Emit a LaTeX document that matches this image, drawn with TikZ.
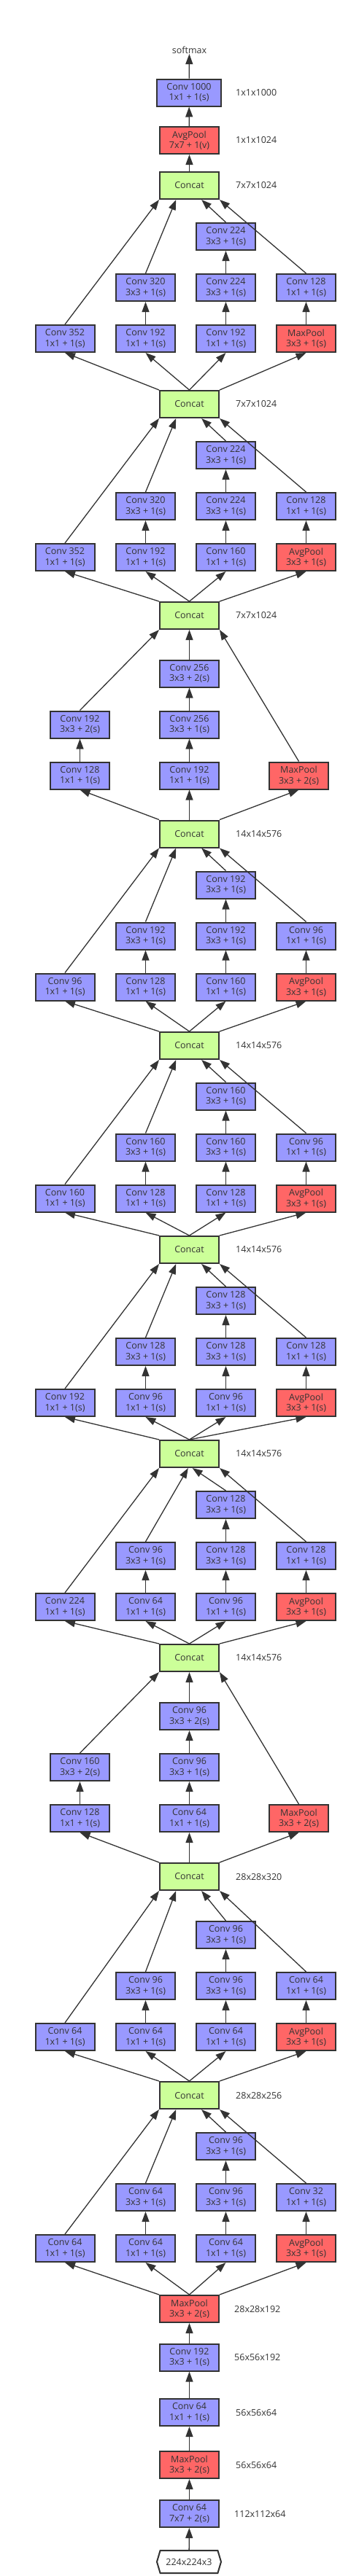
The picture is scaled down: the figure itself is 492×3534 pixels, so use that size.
\documentclass[tikz,border=0pt]{standalone}
\usepackage{fontspec}
\setmainfont{Open Sans}
\usetikzlibrary{arrows.meta,positioning,calc,shapes.symbols}
\definecolor{convblue}{HTML}{9999FF}
\definecolor{poolred}{HTML}{FF6666}
\definecolor{catgreen}{HTML}{CCFF99}
\definecolor{linegray}{HTML}{333333}
\tikzset{%
  >={Triangle[length=14pt,width=10pt]},
  % Specifications for style of nodes:
        base/.style = {rectangle, draw=linegray, line width=2pt,
                       minimum width=81pt, minimum height=37pt, inner sep=0pt,
                       text centered, text=linegray,
                       font=\fontsize{12.5}{14.5}\selectfont},
        conv/.style = {base, fill=convblue},
        pool/.style = {base, fill=poolred},
      concat/.style = {base, fill=catgreen},
    inputbox/.style = {signal, signal to=east and west, signal pointer angle=147,
                       draw=linegray, line width=2pt, fill=white,
                       minimum width=88pt, minimum height=31pt, inner sep=0pt,
                       text=linegray, font=\fontsize{12.5}{14.5}\selectfont},
        dims/.style = {inner sep=0pt, text=linegray,
                       font=\fontsize{12.5}{14.5}\selectfont},
        link/.style = {->, draw=linegray, line width=1.3pt},
}

\begin{document}
\begin{tikzpicture}[node distance=70pt, x=1pt, y=-1pt, align=center]
\useasboundingbox (0,0) rectangle (492,3534);

\node (Out)  [dims] at (259.5,69)      {softmax};
\node (Fc)   [conv, minimum width=88pt] at (259,127) {Conv 1000\\1x1 + 1(s)};
\node (GAP)  [pool] at (259.5,192.5)   {AvgPool\\7x7 + 1(v)};
\node (K0)   [concat] at (259.5,254.5) {Concat};

% module A
\node (A11)  [conv] at (89,464.5)      {Conv 352\\1x1 + 1(s)};
\node (A21)  [conv] at (199.5,464.5)   {Conv 192\\1x1 + 1(s)};
\node (A22)  [conv, above of=A21]      {Conv 320\\3x3 + 1(s)};
\node (A31)  [conv] at (309.5,464.5)   {Conv 192\\1x1 + 1(s)};
\node (A32)  [conv, above of=A31]      {Conv 224\\3x3 + 1(s)};
\node (A33)  [conv, above of=A32]      {Conv 224\\3x3 + 1(s)};
\node (A41)  [pool] at (419.5,464.5)   {MaxPool\\3x3 + 1(s)};
\node (A42)  [conv, above of=A41]      {Conv 128\\1x1 + 1(s)};
\node (K1)   [concat] at (259.5,554.5) {Concat};

% module B
\node (B11)  [conv] at (89,764.5)      {Conv 352\\1x1 + 1(s)};
\node (B21)  [conv] at (199.5,764.5)   {Conv 192\\1x1 + 1(s)};
\node (B22)  [conv, above of=B21]      {Conv 320\\3x3 + 1(s)};
\node (B31)  [conv] at (309.5,764.5)   {Conv 160\\1x1 + 1(s)};
\node (B32)  [conv, above of=B31]      {Conv 224\\3x3 + 1(s)};
\node (B33)  [conv, above of=B32]      {Conv 224\\3x3 + 1(s)};
\node (B41)  [pool] at (419.5,764.5)   {AvgPool\\3x3 + 1(s)};
\node (B42)  [conv, above of=B41]      {Conv 128\\1x1 + 1(s)};
\node (K2)   [concat] at (259.5,844.5) {Concat};

% module C
\node (C11)  [conv] at (109.5,1064)    {Conv 128\\1x1 + 1(s)};
\node (C12)  [conv, above of=C11]      {Conv 192\\3x3 + 2(s)};
\node (C21)  [conv] at (259.5,1064)    {Conv 192\\1x1 + 1(s)};
\node (C22)  [conv, above of=C21]      {Conv 256\\3x3 + 1(s)};
\node (C23)  [conv, above of=C22]      {Conv 256\\3x3 + 2(s)};
\node (C31)  [pool] at (409.5,1064)    {MaxPool\\3x3 + 2(s)};
\node (K3)   [concat] at (259.5,1144)  {Concat};

% module D
\node (D11)  [conv] at (89,1354)       {Conv 96\\1x1 + 1(s)};
\node (D21)  [conv] at (199.5,1354)    {Conv 128\\1x1 + 1(s)};
\node (D22)  [conv, above of=D21]      {Conv 192\\3x3 + 1(s)};
\node (D31)  [conv] at (309.5,1354)    {Conv 160\\1x1 + 1(s)};
\node (D32)  [conv, above of=D31]      {Conv 192\\3x3 + 1(s)};
\node (D33)  [conv, above of=D32]      {Conv 192\\3x3 + 1(s)};
\node (D41)  [pool] at (419.5,1354)    {AvgPool\\3x3 + 1(s)};
\node (D42)  [conv, above of=D41]      {Conv 96\\1x1 + 1(s)};
\node (K4)   [concat] at (259.5,1434.5) {Concat};

% module E
\node (E11)  [conv] at (89,1644)       {Conv 160\\1x1 + 1(s)};
\node (E21)  [conv] at (199.5,1644)    {Conv 128\\1x1 + 1(s)};
\node (E22)  [conv, above of=E21]      {Conv 160\\3x3 + 1(s)};
\node (E31)  [conv] at (309.5,1644)    {Conv 128\\1x1 + 1(s)};
\node (E32)  [conv, above of=E31]      {Conv 160\\3x3 + 1(s)};
\node (E33)  [conv, above of=E32]      {Conv 160\\3x3 + 1(s)};
\node (E41)  [pool] at (419.5,1644)    {AvgPool\\3x3 + 1(s)};
\node (E42)  [conv, above of=E41]      {Conv 96\\1x1 + 1(s)};
\node (K5)   [concat] at (259.5,1714.5) {Concat};

% module F
\node (F11)  [conv] at (89,1924.5)     {Conv 192\\1x1 + 1(s)};
\node (F21)  [conv] at (199.5,1924.5)  {Conv 96\\1x1 + 1(s)};
\node (F22)  [conv, above of=F21]      {Conv 128\\3x3 + 1(s)};
\node (F31)  [conv] at (309.5,1924.5)  {Conv 96\\1x1 + 1(s)};
\node (F32)  [conv, above of=F31]      {Conv 128\\3x3 + 1(s)};
\node (F33)  [conv, above of=F32]      {Conv 128\\3x3 + 1(s)};
\node (F41)  [pool] at (419.5,1924.5)  {AvgPool\\3x3 + 1(s)};
\node (F42)  [conv, above of=F41]      {Conv 128\\1x1 + 1(s)};
\node (K6)   [concat] at (259.5,1994.5) {Concat};

% module G
\node (G11)  [conv] at (89,2204.5)     {Conv 224\\1x1 + 1(s)};
\node (G21)  [conv] at (199.5,2204.5)  {Conv 64\\1x1 + 1(s)};
\node (G22)  [conv, above of=G21]      {Conv 96\\3x3 + 1(s)};
\node (G31)  [conv] at (309.5,2204.5)  {Conv 96\\1x1 + 1(s)};
\node (G32)  [conv, above of=G31]      {Conv 128\\3x3 + 1(s)};
\node (G33)  [conv, above of=G32]      {Conv 128\\3x3 + 1(s)};
\node (G41)  [pool] at (419.5,2204.5)  {AvgPool\\3x3 + 1(s)};
\node (G42)  [conv, above of=G41]      {Conv 128\\1x1 + 1(s)};
\node (K7)   [concat] at (259.5,2274.5) {Concat};

% module H
\node (H11)  [conv] at (109.5,2494.5)  {Conv 128\\1x1 + 1(s)};
\node (H12)  [conv, above of=H11]      {Conv 160\\3x3 + 2(s)};
\node (H21)  [conv] at (259.5,2494.5)  {Conv 64\\1x1 + 1(s)};
\node (H22)  [conv, above of=H21]      {Conv 96\\3x3 + 1(s)};
\node (H23)  [conv, above of=H22]      {Conv 96\\3x3 + 2(s)};
\node (H31)  [pool] at (409.5,2494.5)  {MaxPool\\3x3 + 2(s)};
\node (K8)   [concat] at (259.5,2574.5) {Concat};

% module I
\node (I11)  [conv] at (89,2794.5)     {Conv 64\\1x1 + 1(s)};
\node (I21)  [conv] at (199.5,2794.5)  {Conv 64\\1x1 + 1(s)};
\node (I22)  [conv, above of=I21]      {Conv 96\\3x3 + 1(s)};
\node (I31)  [conv] at (309.5,2794.5)  {Conv 64\\1x1 + 1(s)};
\node (I32)  [conv, above of=I31]      {Conv 96\\3x3 + 1(s)};
\node (I33)  [conv, above of=I32]      {Conv 96\\3x3 + 1(s)};
\node (I41)  [pool] at (419.5,2794.5)  {AvgPool\\3x3 + 1(s)};
\node (I42)  [conv, above of=I41]      {Conv 64\\1x1 + 1(s)};
\node (K9)   [concat] at (259.5,2874.5) {Concat};

% module J
\node (J11)  [conv] at (89,3084.5)     {Conv 64\\1x1 + 1(s)};
\node (J21)  [conv] at (199.5,3084.5)  {Conv 64\\1x1 + 1(s)};
\node (J22)  [conv, above of=J21]      {Conv 64\\3x3 + 1(s)};
\node (J31)  [conv] at (309.5,3084.5)  {Conv 64\\1x1 + 1(s)};
\node (J32)  [conv, above of=J31]      {Conv 96\\3x3 + 1(s)};
\node (J33)  [conv, above of=J32]      {Conv 96\\3x3 + 1(s)};
\node (J41)  [pool] at (419.5,3084.5)  {AvgPool\\3x3 + 1(s)};
\node (J42)  [conv, above of=J41]      {Conv 32\\1x1 + 1(s)};
\node (MP2)  [pool] at (259.5,3167.5)  {MaxPool\\3x3 + 2(s)};

% stem
\node (S4)   [conv] at (259.5,3234)    {Conv 192\\3x3 + 1(s)};
\node (S3)   [conv] at (259.5,3309.5)  {Conv 64\\1x1 + 1(s)};
\node (S2)   [pool] at (259.5,3381.5)  {MaxPool\\3x3 + 2(s)};
\node (S1)   [conv] at (259.5,3448.5)  {Conv 64\\7x7 + 2(s)};
\node (In)   [inputbox] at (259,3514.5) {224x224x3};

% sizes
\node (dFc)  [dims, right=19pt of Fc]  {1x1x1000};
\node (dGAP) [dims, right=22pt of GAP] {1x1x1024};
\node (dK0)  [dims, right=22pt of K0]  {7x7x1024};
\node (dK1)  [dims, right=22pt of K1]  {7x7x1024};
\node (dK2)  [dims, right=22pt of K2]  {7x7x1024};
\node (dK3)  [dims, right=22pt of K3]  {14x14x576};
\node (dK4)  [dims, right=22pt of K4]  {14x14x576};
\node (dK5)  [dims, right=22pt of K5]  {14x14x576};
\node (dK6)  [dims, right=22pt of K6]  {14x14x576};
\node (dK7)  [dims, right=22pt of K7]  {14x14x576};
\node (dK8)  [dims, right=22pt of K8]  {28x28x320};
\node (dK9)  [dims, right=22pt of K9]  {28x28x256};
\node (dMP2) [dims, right=20pt of MP2] {28x28x192};
\node (dS4)  [dims, right=20pt of S4]  {56x56x192};
\node (dS3)  [dims, right=22pt of S3]  {56x56x64};
\node (dS2)  [dims, right=22pt of S2]  {56x56x64};
\node (dS1)  [dims, right=20pt of S1]  {112x112x64};

% head
\draw[link] (Fc) -- (Out);
\draw[link] (GAP) -- (Fc);
\draw[link] (K0) -- (GAP);

% module A
\draw[link] (K1.north west) -- (A11.south);
\draw[link] (K1.north) -- (A21.south);
\draw[link] (K1.north) -- (A31.south);
\draw[link] (K1.north east) -- (A41.south);
\draw[link] (A21) -- (A22);
\draw[link] (A31) -- (A32);
\draw[link] (A32) -- (A33);
\draw[link] (A41) -- (A42);
\draw[link] (A11.north) -- (K0.south west);
\draw[link] (A22.north) -- ($(K0.south west)!0.28!(K0.south east)$);
\draw[link] (A33.north) -- ($(K0.south west)!0.7!(K0.south east)$);
\draw[link] (A42.north) -- (K0.south east);

% module B
\draw[link] (K2.north west) -- (B11.south);
\draw[link] (K2.north) -- (B21.south);
\draw[link] (K2.north) -- (B31.south);
\draw[link] (K2.north east) -- (B41.south);
\draw[link] (B21) -- (B22);
\draw[link] (B31) -- (B32);
\draw[link] (B32) -- (B33);
\draw[link] (B41) -- (B42);
\draw[link] (B11.north) -- (K1.south west);
\draw[link] (B22.north) -- ($(K1.south west)!0.28!(K1.south east)$);
\draw[link] (B33.north) -- ($(K1.south west)!0.7!(K1.south east)$);
\draw[link] (B42.north) -- (K1.south east);

% module C
\draw[link] (K3.north west) -- (C11.south);
\draw[link] (K3) -- (C21);
\draw[link] (K3.north east) -- (C31.south);
\draw[link] (C11) -- (C12);
\draw[link] (C21) -- (C22);
\draw[link] (C22) -- (C23);
\draw[link] (C12.north) -- (K2.south west);
\draw[link] (C23) -- (K2);
\draw[link] (C31.north) -- (K2.south east);

% module D
\draw[link] (K4.north west) -- (D11.south);
\draw[link] (K4.north) -- (D21.south);
\draw[link] (K4.north) -- (D31.south);
\draw[link] (K4.north east) -- (D41.south);
\draw[link] (D21) -- (D22);
\draw[link] (D31) -- (D32);
\draw[link] (D32) -- (D33);
\draw[link] (D41) -- (D42);
\draw[link] (D11.north) -- (K3.south west);
\draw[link] (D22.north) -- ($(K3.south west)!0.28!(K3.south east)$);
\draw[link] (D33.north) -- ($(K3.south west)!0.7!(K3.south east)$);
\draw[link] (D42.north) -- (K3.south east);

% module E
\draw[link] (K5.north west) -- (E11.south);
\draw[link] (K5.north) -- (E21.south);
\draw[link] (K5.north) -- (E31.south);
\draw[link] (K5.north east) -- (E41.south);
\draw[link] (E21) -- (E22);
\draw[link] (E31) -- (E32);
\draw[link] (E32) -- (E33);
\draw[link] (E41) -- (E42);
\draw[link] (E11.north) -- (K4.south west);
\draw[link] (E22.north) -- ($(K4.south west)!0.28!(K4.south east)$);
\draw[link] (E33.north) -- ($(K4.south west)!0.7!(K4.south east)$);
\draw[link] (E42.north) -- (K4.south east);

% module F
\draw[link] (K6.north west) -- (F11.south);
\draw[link] (K6.north) -- (F21.south);
\draw[link] (K6.north) -- (F31.south);
\draw[link] (K6.north) -- (F41.south);
\draw[link] (F21) -- (F22);
\draw[link] (F31) -- (F32);
\draw[link] (F32) -- (F33);
\draw[link] (F41) -- (F42);
\draw[link] (F11.north) -- (K5.south west);
\draw[link] (F22.north) -- ($(K5.south west)!0.28!(K5.south east)$);
\draw[link] (F33.north) -- ($(K5.south west)!0.7!(K5.south east)$);
\draw[link] (F42.north) -- (K5.south east);

% module G
\draw[link] (K7.north west) -- (G11.south);
\draw[link] (K7.north) -- (G21.south);
\draw[link] (K7.north) -- (G31.south);
\draw[link] (K7.north east) -- (G41.south);
\draw[link] (G21) -- (G22);
\draw[link] (G31) -- (G32);
\draw[link] (G32) -- (G33);
\draw[link] (G41) -- (G42);
\draw[link] (G11.north) -- (K6.south west);
\draw[link] (G22.north) -- ($(K6.south west)!0.48!(K6.south east)$);
\draw[link] (G33.north) -- ($(K6.south west)!0.55!(K6.south east)$);
\draw[link] (G42.north) -- (K6.south east);

% module H
\draw[link] (K8.north west) -- (H11.south);
\draw[link] (K8) -- (H21);
\draw[link] (K8.north east) -- (H31.south);
\draw[link] (H11) -- (H12);
\draw[link] (H21) -- (H22);
\draw[link] (H22) -- (H23);
\draw[link] (H12.north) -- (K7.south west);
\draw[link] (H23) -- (K7);
\draw[link] (H31.north) -- (K7.south east);

% module I
\draw[link] (K9.north west) -- (I11.south);
\draw[link] (K9.north) -- (I21.south);
\draw[link] (K9.north) -- (I31.south);
\draw[link] (K9.north east) -- (I41.south);
\draw[link] (I21) -- (I22);
\draw[link] (I31) -- (I32);
\draw[link] (I32) -- (I33);
\draw[link] (I41) -- (I42);
\draw[link] (I11.north) -- (K8.south west);
\draw[link] (I22.north) -- ($(K8.south west)!0.28!(K8.south east)$);
\draw[link] (I33.north) -- ($(K8.south west)!0.7!(K8.south east)$);
\draw[link] (I42.north) -- (K8.south east);

% module J
\draw[link] (MP2.north west) -- (J11.south);
\draw[link] (MP2.north) -- (J21.south);
\draw[link] (MP2.north) -- (J31.south);
\draw[link] (MP2.north east) -- (J41.south);
\draw[link] (J21) -- (J22);
\draw[link] (J31) -- (J32);
\draw[link] (J32) -- (J33);
\draw[link] (J41) -- (J42);
\draw[link] (J11.north) -- (K9.south west);
\draw[link] (J22.north) -- ($(K9.south west)!0.28!(K9.south east)$);
\draw[link] (J33.north) -- ($(K9.south west)!0.7!(K9.south east)$);
\draw[link] (J42.north) -- (K9.south east);

% stem
\draw[link] (S4) -- (MP2);
\draw[link] (S3) -- (S4);
\draw[link] (S2) -- (S3);
\draw[link] (S1) -- (S2);
\draw[link] (In) -- (S1);
\end{tikzpicture}
\end{document}
